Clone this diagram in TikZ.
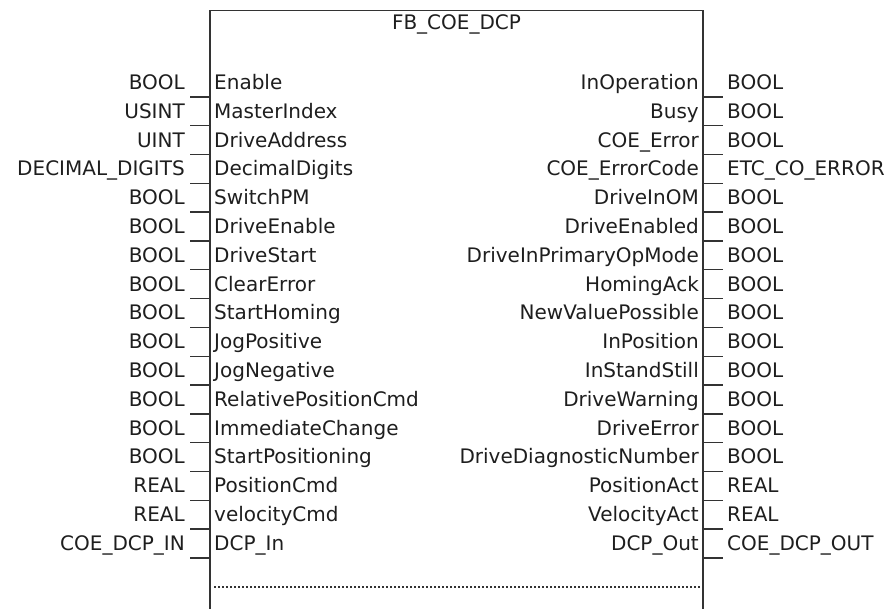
\documentclass[tikz,border=0pt]{standalone}
\usepackage{fontspec}
\setmainfont{DejaVu Sans}
\definecolor{txt}{HTML}{1E1E1E}
\definecolor{ln}{HTML}{333333}
\begin{document}
\begin{tikzpicture}[x=1pt,y=-1pt,
  every node/.style={inner sep=0pt,text=txt,font=\fontsize{20}{22}\selectfont},
  pinl/.style={anchor=base west},
  pinr/.style={anchor=base east},
  typel/.style={anchor=base east},
  typer/.style={anchor=base west},
  stub/.style={draw=ln,line width=1.4pt},
  boxline/.style={draw=ln,line width=1.6pt},
  sep/.style={draw=ln,line width=1.2pt,dash pattern=on 2pt off 2pt}]
\useasboundingbox (0,0) rectangle (890,609);
\coordinate (bl) at (210,609);
\coordinate (tl) at (210,10.5);
\coordinate (tr) at (703,10.5);
\coordinate (br) at (703,609);
\draw[boxline] (bl) -- (tl) -- (tr) -- (br);
\node[anchor=base] (title) at (456.5,30) {FB\_COE\_DCP};
\coordinate (sepl) at (214,587);
\coordinate (sepr) at (703,587);
\draw[sep] (sepl) -- (sepr);
\foreach \i/\pn/\pt in {0/Enable/BOOL,1/MasterIndex/USINT,2/DriveAddress/UINT,
  3/DecimalDigits/DECIMAL\_DIGITS,4/SwitchPM/BOOL,5/DriveEnable/BOOL,6/DriveStart/BOOL,
  7/ClearError/BOOL,8/StartHoming/BOOL,9/JogPositive/BOOL,10/JogNegative/BOOL,
  11/RelativePositionCmd/BOOL,12/ImmediateChange/BOOL,13/StartPositioning/BOOL,
  14/PositionCmd/REAL,15/velocityCmd/REAL,16/DCP\_In/COE\_DCP\_IN}{
  \pgfmathsetmacro{\yc}{82+28.8*\i}
  \node[pinl] (in\i) at (214,\yc+7.5) {\pn};
  \node[typel] (tin\i) at (185,\yc+7.5) {\pt};
  \coordinate (ia\i) at (210,\yc+15);
  \coordinate (ib\i) at (190,\yc+15);
  \draw[stub] (ia\i) -- (ib\i);
}
\foreach \i/\pn/\pt in {0/InOperation/BOOL,1/Busy/BOOL,2/COE\_Error/BOOL,
  3/COE\_ErrorCode/ETC\_CO\_ERROR,4/DriveInOM/BOOL,5/DriveEnabled/BOOL,
  6/DriveInPrimaryOpMode/BOOL,7/HomingAck/BOOL,8/NewValuePossible/BOOL,
  9/InPosition/BOOL,10/InStandStill/BOOL,11/DriveWarning/BOOL,12/DriveError/BOOL,
  13/DriveDiagnosticNumber/BOOL,14/PositionAct/REAL,15/VelocityAct/REAL,
  16/DCP\_Out/COE\_DCP\_OUT}{
  \pgfmathsetmacro{\yc}{82+28.8*\i}
  \node[pinr] (out\i) at (699,\yc+7.5) {\pn};
  \node[typer] (tout\i) at (727,\yc+7.5) {\pt};
  \coordinate (oa\i) at (703,\yc+15);
  \coordinate (ob\i) at (723,\yc+15);
  \draw[stub] (oa\i) -- (ob\i);
}
\end{tikzpicture}
\end{document}
